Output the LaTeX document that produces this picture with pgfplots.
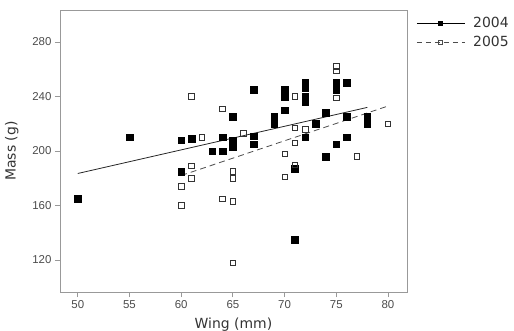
\documentclass[border=0pt]{standalone}
\usepackage{fontspec}
\setmainfont{Liberation Sans}
\newfontfamily\labfont{DejaVu Sans}
\usepackage{pgfplots}
\pgfplotsset{compat=1.18}
\definecolor{frame}{gray}{0.6}
\definecolor{txt}{gray}{0.2}
\begin{document}
\begin{tikzpicture}[x=1bp,y=1bp]
\path[use as bounding box] (-60bp,-39bp) rectangle (454bp,292bp);
\begin{axis}[
  at={(0,0)}, anchor=south west,
  scale only axis, width=347bp, height=282bp,
  xmin=48.28, xmax=81.84, ymin=96.5, ymax=303.5,
  xtick={50,55,...,80}, ytick={120,160,...,280},
  axis line style={frame, line width=0.9pt},
  tick style={frame, line width=0.8pt},
  tick align=outside, tick pos=left,
  major tick length=5bp,
  /pgf/number format/assume math mode=true,
  ticklabel style={font=\fontsize{11.5}{13}\selectfont, text=black!70},
  label style={font=\labfont\fontsize{14}{16}\selectfont, text=txt},
  xlabel={Wing (mm)}, ylabel={Mass (g)},
  xlabel style={at={(axis description cs:0.5,0)}, anchor=north, yshift=-22bp},
  ylabel style={at={(axis description cs:0,0.5)}, anchor=south, yshift=38bp},
  legend style={at={(axis description cs:1.0235,0.985)}, anchor=north west,
    draw=none, fill=none, font=\labfont\fontsize{14}{16}\selectfont, text=txt,
    row sep=3bp, inner sep=1bp,
    /tikz/every odd column/.append style={column sep=6bp}},
  legend cell align=left,
  legend image code/.code={\draw[mark repeat=2, mark phase=2, #1] plot coordinates {(0bp,0bp) (24bp,0bp) (48bp,0bp)};},
]
\addlegendimage{black, solid, line width=0.8pt, mark=square*, mark size=2bp, mark options={solid}}
\addlegendentry{2004}
\addlegendimage{black!70, dash pattern=on 5bp off 4bp, line width=0.8pt, mark=square, mark size=2bp, mark options={solid}}
\addlegendentry{2005}
% 2004 data
\addplot[only marks, mark=square*, mark size=3.3bp, black, forget plot] coordinates {
(50,165) (55,210) (60,208) (60,185) (61,209) (63,200) (64,200) (64,210)
(65,225) (65,208) (65,203) (67,245) (67,211) (67,205) (69,225) (69,220)
(70,245) (70,240) (70,230) (71,187) (71,135) (72,250) (72,246) (72,240)
(72,236) (72,210) (73,220) (74,228) (74,196) (75,250) (75,245) (75,205)
(76,250) (76,225) (76,210) (78,225) (78,220)
};
% 2005 data
\addplot[only marks, mark=square, mark size=2.7bp, black!80, line width=0.7pt, forget plot] coordinates {
(60,174) (60,160) (61,240) (61,189) (61,180) (62,210) (64,231) (64,165)
(65,185) (65,180) (65,163) (65,118) (66,213) (70,198) (70,181) (71,240)
(71,217) (71,206) (71,190) (72,216) (75,262) (75,259) (75,239) (77,196)
(80,220)
};
% fit lines
\addplot[black!85, line width=0.8pt, no marks, forget plot] coordinates {(50,183.5) (78,232)};
\addplot[black!70, line width=0.8pt, no marks, dash pattern=on 6bp off 4bp, forget plot] coordinates {(60,182) (80,233)};
\end{axis}
\end{tikzpicture}
\end{document}
